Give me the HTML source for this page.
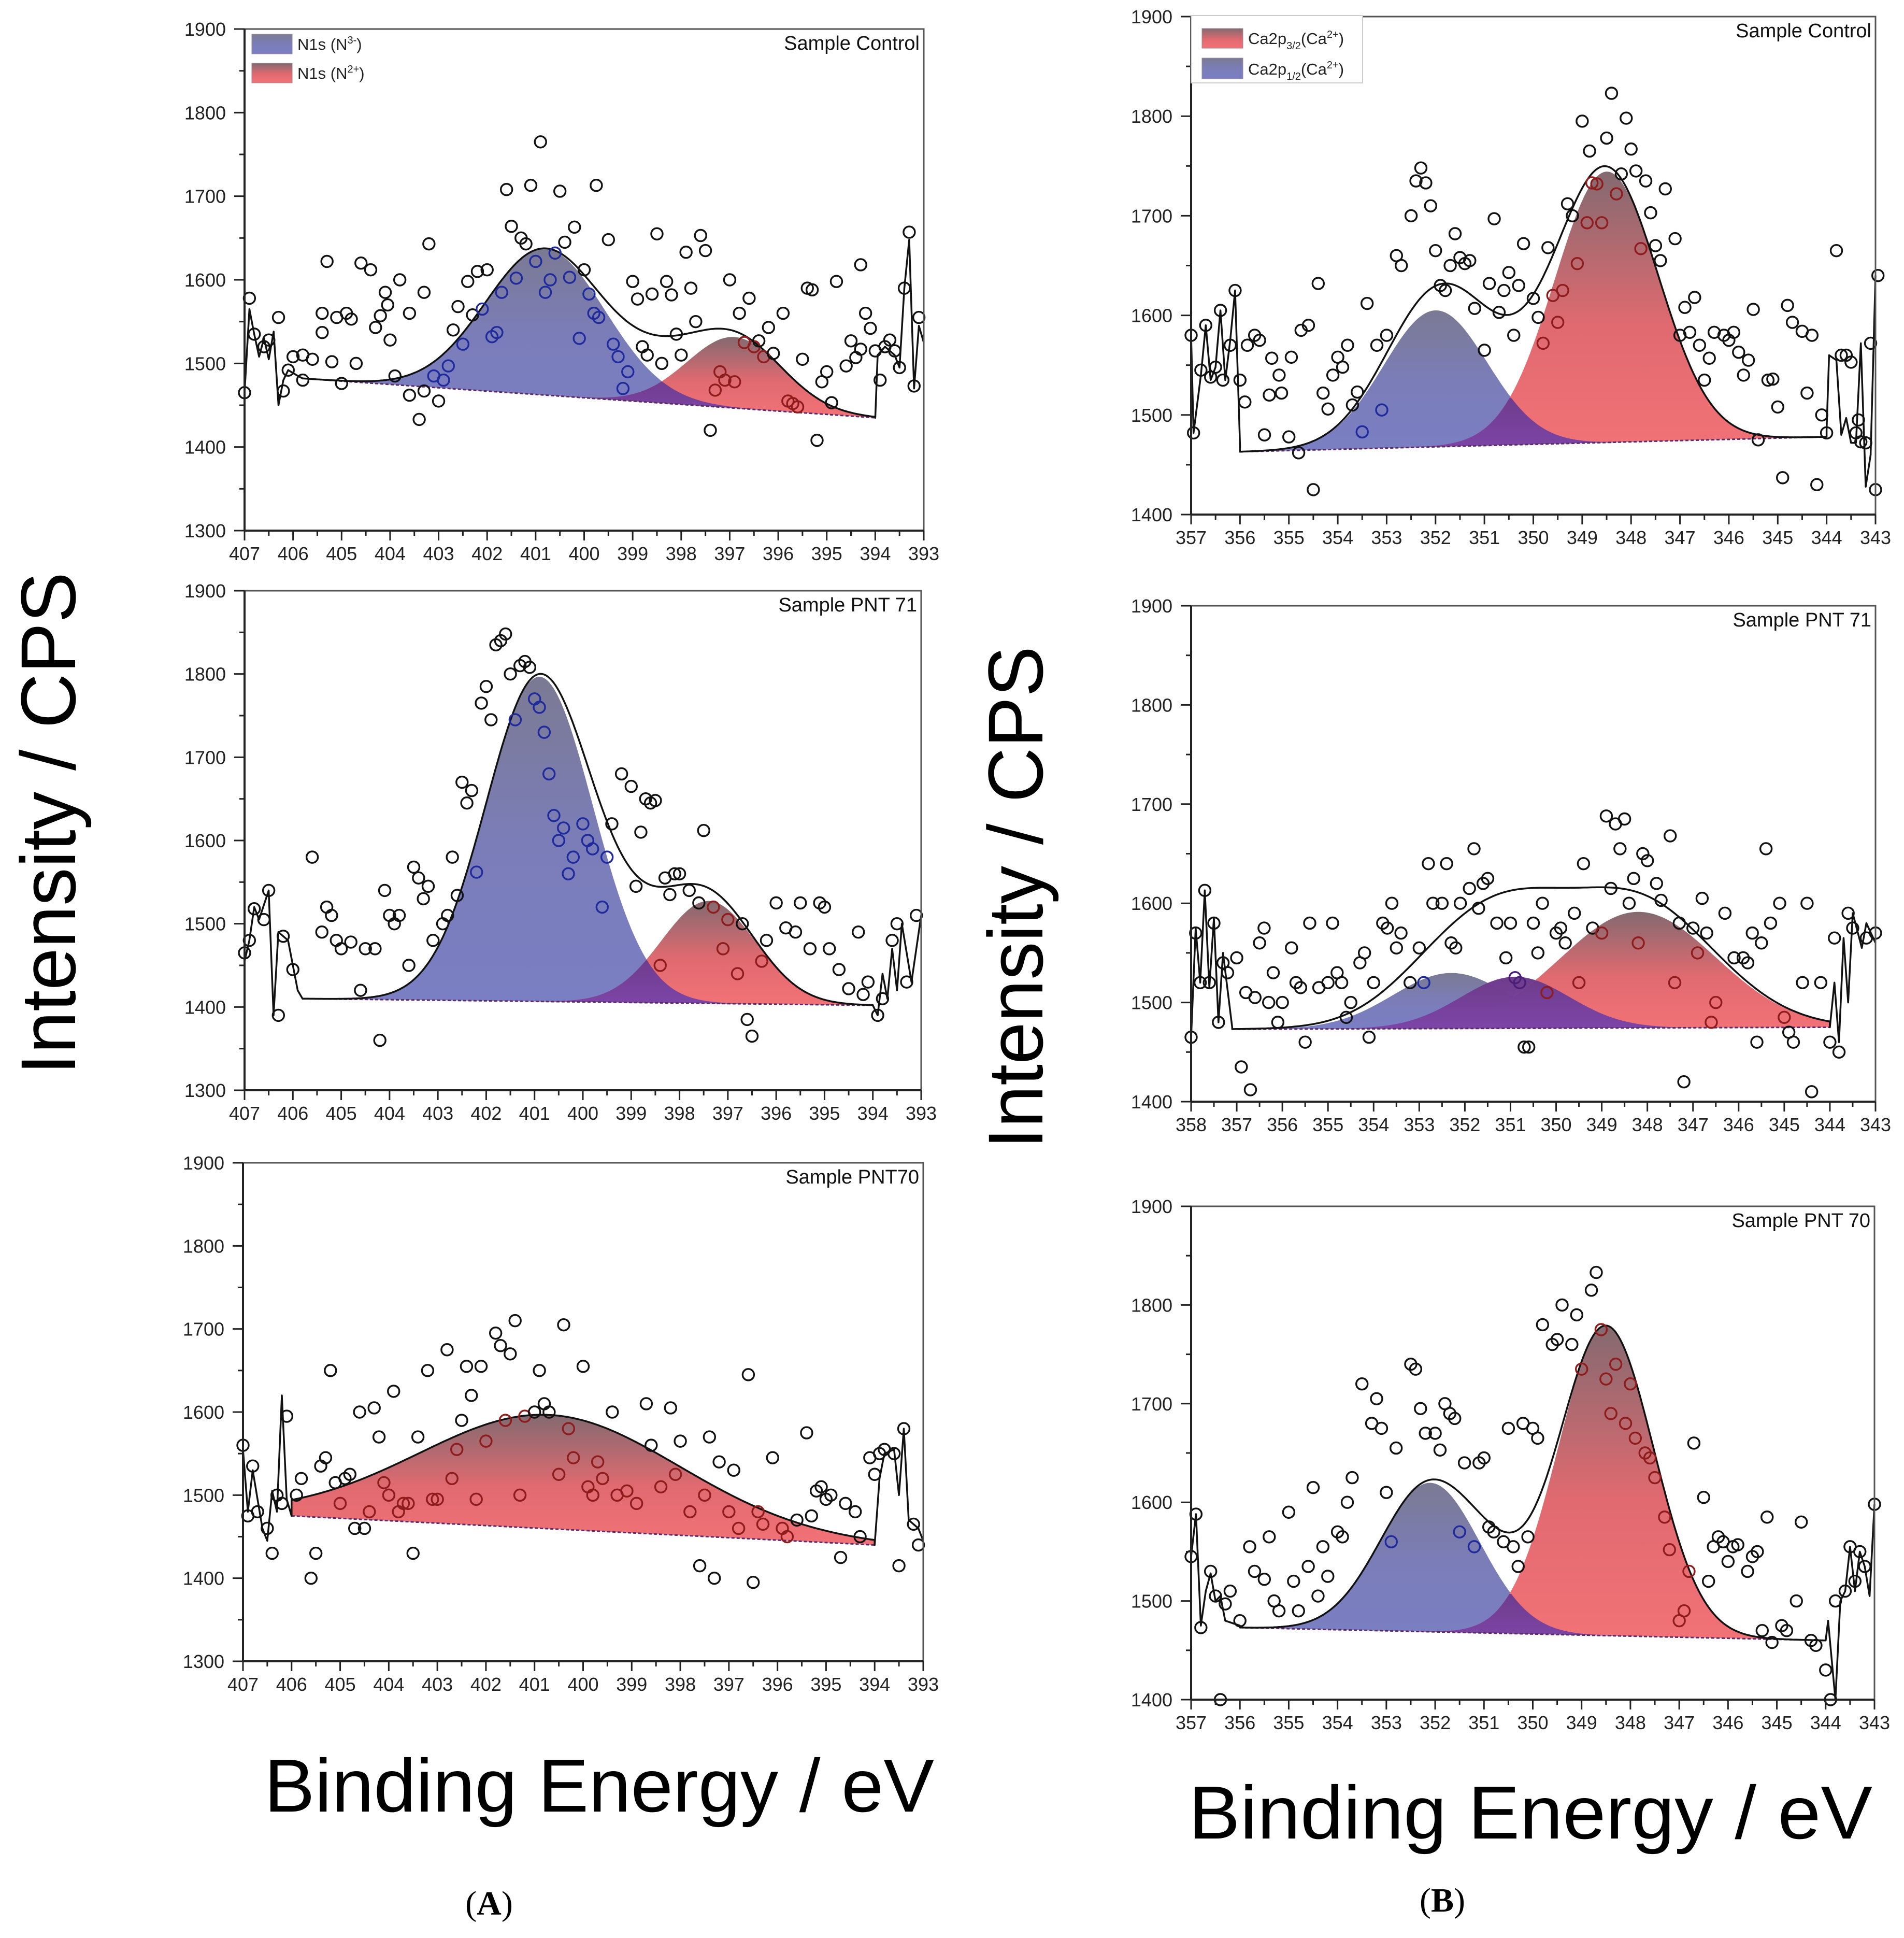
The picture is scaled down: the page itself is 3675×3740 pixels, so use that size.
<!DOCTYPE html>
<html><head><meta charset="utf-8">
<style>
html,body{margin:0;padding:0;background:#fff;}
svg{display:block;font-family:"Liberation Sans",Arial,sans-serif;}
</style></head>
<body>
<svg id="fig" width="3675" height="3740" viewBox="0 0 3675 3740" xmlns="http://www.w3.org/2000/svg">
<defs>
<linearGradient id="gBlue" x1="0" y1="0" x2="0" y2="1"><stop offset="0" stop-color="#7b7a93"/><stop offset="0.5" stop-color="#7b7db8"/><stop offset="1" stop-color="#7a7fc4"/></linearGradient>
<linearGradient id="gRed" x1="0" y1="0" x2="0" y2="1"><stop offset="0" stop-color="#836a70"/><stop offset="0.55" stop-color="#e06a70"/><stop offset="1" stop-color="#f27276"/></linearGradient>
<linearGradient id="gPurple" x1="0" y1="0" x2="0" y2="1"><stop offset="0" stop-color="#6f3c8c"/><stop offset="1" stop-color="#7d45a8"/></linearGradient>
</defs>
<g id="panels"></g>
<text transform="translate(145,1589) rotate(-90)" text-anchor="middle" font-size="150" textLength="970" lengthAdjust="spacingAndGlyphs">Intensity / CPS</text>
<text transform="translate(2012,1732) rotate(-90)" text-anchor="middle" font-size="150" textLength="970" lengthAdjust="spacingAndGlyphs">Intensity / CPS</text>
<text x="510" y="3496" font-size="145" textLength="1293" lengthAdjust="spacingAndGlyphs">Binding Energy / eV</text>
<text x="2294" y="3548" font-size="145" textLength="1320" lengthAdjust="spacingAndGlyphs">Binding Energy / eV</text>
<text x="944" y="3695" text-anchor="middle" font-size="66" font-family="Liberation Serif,serif">(<tspan font-weight="bold">A</tspan>)</text>
<text x="2784" y="3689" text-anchor="middle" font-size="66" font-family="Liberation Serif,serif">(<tspan font-weight="bold">B</tspan>)</text>
</svg>
<script>
// ---------------- DATA ----------------
const a1Points=[[407,1465],[406.9,1578],[406.8,1535],[406.6,1520],[406.5,1528],[406.3,1555],[406.2,1467],[406.1,1492],[406,1508],[405.8,1480],[405.8,1510],[405.6,1505],[405.4,1560],[405.4,1537],[405.3,1622],[405.2,1502],[405.1,1555],[405,1476],[404.9,1560],[404.8,1553],[404.7,1500],[404.6,1620],[404.4,1612],[404.3,1543],[404.2,1557],[404.1,1585],[404.05,1570],[404,1528],[403.9,1485],[403.8,1600],[403.6,1462],[403.6,1560],[403.4,1433],[403.3,1585],[403.3,1467],[403.2,1643],[403.1,1485],[403,1455],[402.9,1480],[402.8,1497],[402.7,1540],[402.6,1568],[402.5,1523],[402.4,1598],[402.3,1558],[402.2,1610],[402.1,1565],[402,1612],[401.9,1532],[401.8,1537],[401.7,1585],[401.6,1708],[401.5,1664],[401.4,1602],[401.3,1650],[401.2,1643],[401.1,1713],[401,1622],[400.9,1765],[400.8,1585],[400.7,1600],[400.6,1632],[400.5,1706],[400.4,1645],[400.3,1603],[400.2,1663],[400.1,1530],[400,1612],[399.75,1713],[399.9,1583],[399.8,1560],[399.7,1555],[399.5,1648],[399.4,1523],[399.3,1508],[399.2,1470],[399.1,1490],[399,1598],[398.9,1577],[398.8,1520],[398.7,1510],[398.6,1583],[398.5,1655],[398.4,1500],[398.3,1598],[398.2,1582],[398.1,1535],[398,1510],[397.9,1633],[397.8,1590],[397.7,1550],[397.6,1653],[397.5,1635],[397.4,1420],[397.3,1468],[397.2,1490],[397.1,1480],[397,1600],[396.9,1478],[396.8,1560],[396.7,1525],[396.6,1578],[396.5,1520],[396.4,1527],[396.3,1508],[396.2,1543],[396.1,1512],[395.9,1560],[395.8,1455],[395.7,1452],[395.6,1448],[395.5,1505],[395.4,1590],[395.3,1588],[395.2,1408],[395.1,1478],[395,1490],[394.9,1453],[394.8,1598],[394.6,1497],[394.5,1527],[394.4,1507],[394.3,1517],[394.3,1618],[394.2,1560],[394.1,1542],[394,1515],[393.9,1480],[393.8,1520],[393.7,1528],[393.6,1515],[393.5,1495],[393.4,1590],[393.3,1657],[393.2,1473],[393.1,1555]];
const a1EdgeL=[[407,1465],[406.9,1565],[406.8,1535],[406.7,1508],[406.6,1530],[406.5,1505],[406.4,1538],[406.3,1450],[406.2,1480],[406.1,1492],[405.9,1485],[405.8,1482]];
const a1EdgeR=[[394,1435],[393.95,1510],[393.8,1520],[393.6,1510],[393.5,1495],[393.4,1590],[393.3,1648],[393.2,1470],[393.1,1545],[393,1525]];
const a1Baseline=[[405.8,1482],[394,1435]];
const a1Centers=[400.8,396.9];
const a1Heights=[175,85];
const a1Fwhm=[2.9,2.3];
const a1EnvExtra=[398.4,28,2.0];

const a2Points=[[407,1465],[406.9,1480],[406.8,1518],[406.6,1505],[406.5,1540],[406.3,1390],[406.2,1485],[406,1445],[405.6,1580],[405.4,1490],[405.3,1520],[405.2,1510],[405.1,1480],[405,1470],[404.8,1478],[404.6,1420],[404.5,1470],[404.3,1470],[404.2,1360],[404.1,1540],[404,1510],[403.9,1500],[403.8,1510],[403.6,1450],[403.5,1568],[403.4,1555],[403.3,1530],[403.2,1545],[403.1,1480],[402.9,1500],[402.8,1510],[402.7,1580],[402.6,1534],[402.5,1670],[402.4,1645],[402.3,1660],[402.2,1562],[402.1,1765],[402,1785],[401.9,1745],[401.8,1835],[401.7,1840],[401.6,1848],[401.5,1800],[401.4,1745],[401.3,1810],[401.2,1815],[401.1,1808],[401,1770],[400.9,1760],[400.8,1730],[400.7,1680],[400.6,1630],[400.5,1600],[400.4,1615],[400.3,1560],[400.2,1580],[400,1620],[399.9,1600],[399.8,1590],[399.6,1520],[399.5,1580],[399.4,1620],[399.2,1680],[399,1665],[398.9,1545],[398.8,1610],[398.7,1650],[398.6,1645],[398.5,1648],[398.4,1450],[398.3,1555],[398.2,1535],[398.1,1560],[398,1560],[397.8,1540],[397.6,1525],[397.5,1612],[397.3,1520],[397.1,1470],[397,1505],[396.8,1440],[396.7,1500],[396.6,1385],[396.5,1365],[396.3,1455],[396.2,1480],[396,1525],[395.8,1495],[395.6,1490],[395.5,1525],[395.3,1470],[395.1,1525],[395,1520],[394.9,1470],[394.7,1445],[394.5,1422],[394.3,1490],[394.2,1415],[394.1,1430],[393.9,1390],[393.8,1410],[393.6,1480],[393.5,1500],[393.3,1430],[393.1,1510]];
const a2EdgeL=[[407,1455],[406.9,1480],[406.8,1520],[406.7,1505],[406.5,1540],[406.4,1390],[406.3,1490],[406.1,1480],[405.9,1420],[405.8,1410]];
const a2EdgeR=[[394,1402],[393.9,1390],[393.8,1440],[393.7,1410],[393.6,1470],[393.5,1420],[393.4,1500],[393.2,1430],[393,1510]];
const a2Baseline=[[405.8,1410],[394,1402]];
const a2Centers=[400.9,397.4];
const a2Heights=[390,123];
const a2Fwhm=[2.6,2.3];
const a2EnvExtra=[398.8,40,2.2];

const a3Points=[[407,1560],[406.9,1475],[406.8,1535],[406.7,1480],[406.5,1460],[406.4,1430],[406.3,1500],[406.2,1490],[406.1,1595],[405.9,1500],[405.8,1520],[405.6,1400],[405.5,1430],[405.4,1535],[405.3,1545],[405.2,1650],[405.1,1515],[405,1490],[404.9,1520],[404.8,1525],[404.7,1460],[404.6,1600],[404.5,1460],[404.4,1480],[404.3,1605],[404.2,1570],[404.1,1515],[404,1500],[403.9,1625],[403.8,1480],[403.7,1490],[403.6,1490],[403.5,1430],[403.4,1570],[403.2,1650],[403.1,1495],[403,1495],[402.8,1675],[402.7,1520],[402.6,1555],[402.5,1590],[402.4,1655],[402.3,1620],[402.2,1495],[402.1,1655],[402,1565],[401.8,1695],[401.7,1680],[401.6,1590],[401.5,1670],[401.4,1710],[401.3,1500],[401.2,1595],[401,1600],[400.9,1650],[400.8,1610],[400.7,1600],[400.5,1525],[400.4,1705],[400.3,1580],[400.2,1545],[400,1655],[399.9,1510],[399.8,1500],[399.7,1540],[399.6,1520],[399.4,1600],[399.3,1500],[399.1,1505],[398.9,1490],[398.7,1610],[398.6,1560],[398.4,1510],[398.2,1605],[398.1,1525],[398,1565],[397.8,1480],[397.6,1415],[397.5,1500],[397.4,1570],[397.3,1400],[397.2,1540],[397,1480],[396.9,1530],[396.8,1460],[396.6,1645],[396.5,1395],[396.4,1480],[396.3,1465],[396.1,1545],[395.9,1460],[395.8,1450],[395.6,1470],[395.4,1575],[395.3,1475],[395.2,1505],[395.1,1510],[395,1495],[394.9,1500],[394.7,1425],[394.6,1490],[394.4,1480],[394.3,1450],[394.1,1545],[394,1525],[393.9,1550],[393.8,1555],[393.6,1550],[393.5,1415],[393.4,1580],[393.2,1465],[393.1,1440]];
const a3EdgeL=[[407,1555],[406.9,1480],[406.8,1530],[406.7,1495],[406.6,1460],[406.5,1445],[406.4,1505],[406.3,1480],[406.2,1620],[406.1,1495],[406,1475]];
const a3EdgeR=[[394,1440],[393.9,1520],[393.8,1550],[393.6,1555],[393.5,1500],[393.4,1580],[393.3,1470],[393.1,1460],[393,1445]];
const a3Baseline=[[406,1475],[394,1440]];
const a3Centers=[400.7];
const a3Heights=[137];
const a3Fwhm=[6.3];
const a3EnvExtra=[400.7,0,1];

const b1Points=[[357,1580],[356.95,1482],[356.8,1545],[356.7,1590],[356.6,1538],[356.5,1548],[356.4,1605],[356.35,1535],[356.2,1570],[356.1,1625],[356,1535],[355.9,1513],[355.85,1570],[355.7,1580],[355.6,1575],[355.5,1480],[355.4,1520],[355.35,1557],[355.2,1540],[355.15,1522],[355,1478],[354.95,1558],[354.8,1462],[354.75,1585],[354.6,1590],[354.5,1425],[354.4,1632],[354.3,1522],[354.2,1506],[354.1,1540],[354,1558],[353.9,1548],[353.8,1570],[353.7,1510],[353.6,1523],[353.5,1483],[353.4,1612],[353.2,1570],[353.1,1505],[353,1580],[352.8,1660],[352.7,1650],[352.5,1700],[352.4,1735],[352.3,1748],[352.2,1733],[352.1,1710],[352,1665],[351.9,1630],[351.8,1625],[351.7,1650],[351.6,1682],[351.5,1658],[351.4,1652],[351.3,1655],[351.2,1607],[351,1565],[350.9,1632],[350.8,1697],[350.7,1603],[350.6,1625],[350.5,1643],[350.4,1580],[350.3,1630],[350.2,1672],[350,1617],[349.9,1598],[349.8,1572],[349.7,1668],[349.6,1620],[349.5,1593],[349.4,1625],[349.3,1712],[349.2,1700],[349.1,1652],[349,1795],[348.9,1693],[348.85,1765],[348.8,1733],[348.7,1732],[348.6,1693],[348.5,1778],[348.4,1823],[348.3,1722],[348.2,1742],[348.1,1798],[348,1767],[347.9,1745],[347.8,1667],[347.7,1735],[347.6,1703],[347.5,1670],[347.4,1655],[347.3,1727],[347.1,1677],[347,1580],[346.9,1608],[346.8,1583],[346.7,1618],[346.6,1570],[346.5,1535],[346.4,1557],[346.3,1583],[346.1,1580],[346,1575],[345.9,1583],[345.8,1563],[345.7,1540],[345.6,1555],[345.5,1606],[345.4,1475],[345.2,1535],[345.1,1536],[345,1508],[344.9,1437],[344.8,1610],[344.7,1593],[344.5,1584],[344.4,1522],[344.3,1580],[344.2,1430],[344.1,1500],[344,1482],[343.8,1665],[343.7,1560],[343.6,1560],[343.5,1553],[343.4,1482],[343.35,1495],[343.3,1473],[343.2,1472],[343.1,1572],[343,1425],[342.95,1640]];
const b1EdgeL=[[357,1580],[356.95,1482],[356.8,1540],[356.7,1590],[356.6,1535],[356.5,1548],[356.4,1605],[356.3,1535],[356.2,1575],[356.1,1625],[356,1470]];
const b1EdgeR=[[344,1485],[343.95,1560],[343.8,1555],[343.7,1480],[343.6,1497],[343.5,1472],[343.4,1472],[343.3,1572],[343.2,1428],[343.1,1460],[343,1640]];
const b1Baseline=[[356,1463],[344,1478]];
const b1Centers=[352,348.5];
const b1Heights=[137,272];
const b1Fwhm=[2.5,2.5];
const b1EnvExtra=[350.9,36,2.8];

const b2Points=[[358,1465],[357.9,1570],[357.8,1520],[357.7,1613],[357.6,1520],[357.5,1580],[357.4,1480],[357.3,1540],[357.2,1530],[357,1545],[356.9,1435],[356.8,1510],[356.7,1412],[356.6,1505],[356.5,1560],[356.4,1575],[356.3,1500],[356.2,1530],[356.1,1480],[356,1500],[355.8,1555],[355.7,1520],[355.6,1515],[355.5,1460],[355.4,1580],[355.2,1515],[355,1520],[354.9,1580],[354.8,1530],[354.7,1520],[354.6,1485],[354.5,1500],[354.3,1540],[354.2,1550],[354.1,1465],[354,1520],[353.8,1580],[353.7,1575],[353.6,1600],[353.5,1555],[353.4,1570],[353.2,1520],[353,1555],[352.9,1520],[352.8,1640],[352.7,1600],[352.5,1600],[352.4,1640],[352.3,1560],[352.2,1555],[352.1,1600],[351.9,1615],[351.8,1655],[351.7,1595],[351.6,1620],[351.5,1625],[351.3,1580],[351.1,1545],[351,1580],[350.9,1525],[350.8,1520],[350.7,1455],[350.6,1455],[350.5,1580],[350.4,1550],[350.3,1600],[350.2,1510],[350,1570],[349.9,1575],[349.8,1560],[349.6,1590],[349.5,1520],[349.4,1640],[349.2,1575],[349,1570],[348.9,1688],[348.8,1615],[348.7,1680],[348.6,1655],[348.5,1685],[348.4,1600],[348.3,1625],[348.2,1560],[348.1,1650],[348,1643],[347.8,1620],[347.7,1603],[347.5,1668],[347.4,1520],[347.3,1580],[347.2,1420],[347,1575],[346.9,1550],[346.8,1605],[346.7,1570],[346.6,1480],[346.5,1500],[346.3,1590],[346.1,1545],[345.9,1545],[345.8,1540],[345.7,1570],[345.6,1460],[345.5,1560],[345.4,1655],[345.3,1580],[345.1,1600],[345,1485],[344.9,1470],[344.8,1460],[344.6,1520],[344.5,1600],[344.4,1410],[344.2,1520],[344,1460],[343.9,1565],[343.8,1450],[343.6,1590],[343.5,1575],[343.2,1565],[343,1570]];
const b2EdgeL=[[358,1465],[357.9,1575],[357.8,1520],[357.7,1613],[357.6,1515],[357.5,1585],[357.4,1480],[357.3,1550],[357.1,1475]];
const b2EdgeR=[[344,1475],[343.9,1520],[343.8,1460],[343.7,1565],[343.6,1500],[343.5,1590],[343.3,1555],[343.2,1580],[343,1560]];
const b2Baseline=[[357.1,1473],[344,1475]];
const b2Centers=[352.3,350.9,348.2];
const b2Heights=[56,52,117];
const b2Fwhm=[3.0,2.8,4.0];
const b2EnvExtra=[350.3,25,5.0];

const b3Points=[[357,1545],[356.9,1588],[356.8,1473],[356.6,1530],[356.5,1505],[356.4,1400],[356.3,1497],[356.2,1510],[356,1480],[355.8,1555],[355.7,1530],[355.5,1522],[355.4,1565],[355.3,1500],[355.2,1490],[355,1590],[354.9,1520],[354.8,1490],[354.6,1535],[354.5,1615],[354.4,1505],[354.3,1555],[354.2,1525],[354,1570],[353.9,1565],[353.8,1600],[353.7,1625],[353.5,1720],[353.3,1680],[353.2,1705],[353.1,1675],[353,1610],[352.9,1560],[352.8,1655],[352.5,1740],[352.4,1735],[352.3,1695],[352.2,1670],[352,1670],[351.9,1653],[351.8,1700],[351.7,1690],[351.6,1685],[351.5,1570],[351.4,1640],[351.2,1555],[351.1,1640],[351,1645],[350.9,1575],[350.8,1570],[350.6,1560],[350.5,1675],[350.4,1555],[350.3,1535],[350.2,1680],[350.1,1565],[350,1675],[349.9,1665],[349.8,1780],[349.6,1760],[349.5,1765],[349.4,1800],[349.2,1760],[349.1,1790],[349,1735],[348.8,1815],[348.7,1833],[348.6,1775],[348.5,1725],[348.4,1690],[348.3,1740],[348.1,1680],[348,1720],[347.9,1665],[347.7,1650],[347.6,1645],[347.5,1625],[347.3,1585],[347.2,1552],[347,1480],[346.9,1490],[346.8,1530],[346.7,1660],[346.5,1605],[346.4,1520],[346.3,1555],[346.2,1565],[346.1,1560],[346,1540],[345.9,1555],[345.8,1557],[345.6,1530],[345.5,1545],[345.4,1550],[345.3,1470],[345.2,1585],[345.1,1458],[344.9,1475],[344.8,1470],[344.6,1500],[344.5,1580],[344.3,1460],[344.2,1455],[344,1430],[343.9,1400],[343.8,1500],[343.6,1510],[343.5,1555],[343.4,1520],[343.3,1550],[343.2,1535],[343,1598]];
const b3EdgeL=[[357,1545],[356.9,1588],[356.8,1475],[356.7,1510],[356.6,1528],[356.5,1500],[356.4,1505],[356.3,1480],[356,1475]];
const b3EdgeR=[[344,1460],[343.95,1480],[343.8,1400],[343.7,1500],[343.6,1510],[343.5,1555],[343.4,1510],[343.3,1550],[343.2,1535],[343.1,1505],[343,1598]];
const b3Baseline=[[356,1473],[344,1460]];
const b3Centers=[352.1,348.5];
const b3Heights=[151,314];
const b3Fwhm=[2.4,2.3];
const b3EnvExtra=[350.8,22,1.5];

const aXTicks=[407,406,405,404,403,402,401,400,399,398,397,396,395,394,393];
const aYTicks=[1300,1400,1500,1600,1700,1800,1900];
const bYTicks=[1400,1500,1600,1700,1800,1900];

// ---------------- RENDER ----------------
const NS='http://www.w3.org/2000/svg';
const root=document.getElementById('panels');
function mk(tag,attrs,parent){const e=document.createElementNS(NS,tag);for(const k in attrs)e.setAttribute(k,attrs[k]);(parent||root).appendChild(e);return e;}

const panels=[
 {id:'a1',L:472,R:1783,T:56,B:1024,x0:407,x1:393,y0:1300,y1:1900,xt:aXTicks,yt:aYTicks,pts:a1Points,el:a1EdgeL,er:a1EdgeR,base:a1Baseline,c:a1Centers,h:a1Heights,w:a1Fwhm,ex:a1EnvExtra,col:['blue','red'],title:'Sample Control'},
 {id:'a2',L:472,R:1778,T:1140,B:2104,x0:407,x1:393,y0:1300,y1:1900,xt:aXTicks,yt:aYTicks,pts:a2Points,el:a2EdgeL,er:a2EdgeR,base:a2Baseline,c:a2Centers,h:a2Heights,w:a2Fwhm,ex:a2EnvExtra,col:['blue','red'],title:'Sample PNT 71'},
 {id:'a3',L:469,R:1782,T:2244,B:3206,x0:407,x1:393,y0:1300,y1:1900,xt:aXTicks,yt:aYTicks,pts:a3Points,el:a3EdgeL,er:a3EdgeR,base:a3Baseline,c:a3Centers,h:a3Heights,w:a3Fwhm,ex:a3EnvExtra,col:['red'],title:'Sample PNT70'},
 {id:'b1',L:2299,R:3620,T:32,B:993,x0:357,x1:343,y0:1400,y1:1900,xt:[357,356,355,354,353,352,351,350,349,348,347,346,345,344,343],yt:bYTicks,pts:b1Points,el:b1EdgeL,er:b1EdgeR,base:b1Baseline,c:b1Centers,h:b1Heights,w:b1Fwhm,ex:b1EnvExtra,col:['blue','red'],title:'Sample Control'},
 {id:'b2',L:2299,R:3620,T:1169,B:2126,x0:358,x1:343,y0:1400,y1:1900,xt:[358,357,356,355,354,353,352,351,350,349,348,347,346,345,344,343],yt:bYTicks,pts:b2Points,el:b2EdgeL,er:b2EdgeR,base:b2Baseline,c:b2Centers,h:b2Heights,w:b2Fwhm,ex:b2EnvExtra,col:['blue','purple','red'],title:'Sample PNT 71'},
 {id:'b3',L:2299,R:3618,T:2328,B:3280,x0:357,x1:343,y0:1400,y1:1900,xt:[357,356,355,354,353,352,351,350,349,348,347,346,345,344,343],yt:bYTicks,pts:b3Points,el:b3EdgeL,er:b3EdgeR,base:b3Baseline,c:b3Centers,h:b3Heights,w:b3Fwhm,ex:b3EnvExtra,col:['blue','red'],title:'Sample PNT 70'}
];
const fills={blue:'url(#gBlue)',red:'url(#gRed)',purple:'url(#gPurple)'};
const markCol={blue:'#1f2a9c',red:'#8e1c1c',purple:'#4a1f7a'};

panels.forEach(p=>{
 const g=mk('g',{});
 
 
 const sx=e=>p.L+(p.x0-e)/(p.x0-p.x1)*(p.R-p.L);
 const sy=v=>p.B-(v-p.y0)/(p.y1-p.y0)*(p.B-p.T);
 const [bs,be]=p.base;
 const baseAt=e=>bs[1]+(e-bs[0])/(be[0]-bs[0])*(be[1]-bs[1]);
 const gauss=(c,h,w,e)=>h*Math.exp(-4*Math.LN2*Math.pow(e-c,2)/(w*w));
 const comp=(i,e)=>gauss(p.c[i],p.h[i],p.w[i],e);
 const N=300, es=[];
 for(let k=0;k<=N;k++) es.push(bs[0]+(be[0]-bs[0])*k/N);
 const basePts=es.map(e=>[sx(e),sy(baseAt(e))]);
 function areaPath(fn){
   let d='M'+es.map(e=>sx(e).toFixed(1)+','+sy(baseAt(e)+fn(e)).toFixed(1)).join(' L');
   for(let k=basePts.length-1;k>=0;k--) d+=' L'+basePts[k][0].toFixed(1)+','+basePts[k][1].toFixed(1);
   return d+'Z';
 }
 p.c.forEach((c,i)=>{
   const a=mk('path',{d:areaPath(e=>comp(i,e)),fill:fills[p.col[i]],stroke:'none'},g);
   
   
 });
 for(let i=0;i<p.c.length;i++)for(let j=i+1;j<p.c.length;j++){
   const o=mk('path',{d:areaPath(e=>Math.min(comp(i,e),comp(j,e))),fill:'url(#gPurple)',stroke:'none'},g);
   
   
 }
 const bl=mk('line',{x1:sx(bs[0]),y1:sy(bs[1]),x2:sx(be[0]),y2:sy(be[1]),stroke:'#5a2a6a','stroke-width':3,'stroke-dasharray':'6,4'},g);
 
 
 let env=es.map(e=>{let s=baseAt(e)+gauss(p.ex[0],p.ex[1],p.ex[2],e);p.c.forEach((c,i)=>s+=comp(i,e));return [sx(e),sy(s)];});
 const ld=p.el.map(q=>[sx(q[0]),sy(q[1])]).concat(env).concat(p.er.map(q=>[sx(q[0]),sy(q[1])]));
 const envP=mk('path',{d:'M'+ld.map(q=>q[0].toFixed(1)+','+q[1].toFixed(1)).join(' L'),fill:'none',stroke:'#111','stroke-width':3.5,'stroke-linejoin':'round'},g);
 
 
 p.pts.forEach(q=>{
   const e=q[0],v=q[1];let col='#111';
   if(e<=bs[0]&&e>=be[0]){
     const b=baseAt(e);let best=-1,bv=0;
     p.c.forEach((c,i)=>{const cv=comp(i,e);if(v>=b&&v<=b+cv&&cv>bv){bv=cv;best=i;}});
     if(best>=0) col=markCol[p.col[best]];
   }
   const m=mk('circle',{cx:sx(e),cy:sy(v),r:11,fill:'none',stroke:col,'stroke-width':3.4},g);
   
   
 });
 const fr=mk('rect',{x:p.L,y:p.T,width:p.R-p.L,height:p.B-p.T,fill:'none',stroke:'#555','stroke-width':3},g);
 
 
 mk('line',{x1:p.L,y1:p.T,x2:p.L,y2:p.B,stroke:'#222','stroke-width':4},g);
 mk('line',{x1:p.L,y1:p.B,x2:p.R,y2:p.B,stroke:'#222','stroke-width':4},g);
 p.xt.forEach((t,i)=>{
   const x=sx(t);
   mk('line',{x1:x,y1:p.B,x2:x,y2:p.B+19,stroke:'#222','stroke-width':3},g);
   if(i<p.xt.length-1) mk('line',{x1:sx(t-0.5),y1:p.B,x2:sx(t-0.5),y2:p.B+10,stroke:'#222','stroke-width':3},g);
   const tl=mk('text',{x:x,y:p.B+57,'text-anchor':'middle','font-size':36,fill:'#222'},g);
   
   
   tl.textContent=t;
 });
 p.yt.forEach((t,i)=>{
   const y=sy(t);
   mk('line',{x1:p.L-20,y1:y,x2:p.L,y2:y,stroke:'#222','stroke-width':3},g);
   if(i<p.yt.length-1) mk('line',{x1:p.L-10,y1:sy(t+50),x2:p.L,y2:sy(t+50),stroke:'#222','stroke-width':3},g);
   const tl=mk('text',{x:p.L-36,y:y+13,'text-anchor':'end','font-size':36,fill:'#222'},g);
   
   
   tl.textContent=t;
 });
 const tt=mk('text',{x:p.R-8,y:p.T+40,'text-anchor':'end','font-size':38,fill:'#111'},g);
 
 
 tt.textContent=p.title;
});

function legendItem(x,y,w,h,fill,label,name){
 const r=mk('rect',{x:x,y:y,width:w,height:h,fill:fill,stroke:'#9a8a9a','stroke-width':1});
 
 
 const t=mk('text',{x:x+w+10,y:y+h-8,'font-size':31,fill:'#222'});
 
 
 t.innerHTML=label;
}
legendItem(486,66,78,38,'url(#gBlue)','N1s (N<tspan dy="-12" font-size="20">3-</tspan><tspan dy="12">)</tspan>','legend-n3');
legendItem(486,122,78,38,'url(#gRed)','N1s (N<tspan dy="-12" font-size="20">2+</tspan><tspan dy="12">)</tspan>','legend-n2');
const lb=mk('rect',{x:2299,y:30,width:331,height:130,fill:'#fff',stroke:'#ccc','stroke-width':2});


legendItem(2320,55,79,38,'url(#gRed)','Ca2p<tspan dy="10" font-size="20">3/2</tspan><tspan dy="-10">(Ca</tspan><tspan dy="-12" font-size="20">2+</tspan><tspan dy="12">)</tspan>','legend-ca2p32');
legendItem(2320,112,79,40,'url(#gBlue)','Ca2p<tspan dy="10" font-size="20">1/2</tspan><tspan dy="-10">(Ca</tspan><tspan dy="-12" font-size="20">2+</tspan><tspan dy="12">)</tspan>','legend-ca2p12');
</script>
</body></html>
